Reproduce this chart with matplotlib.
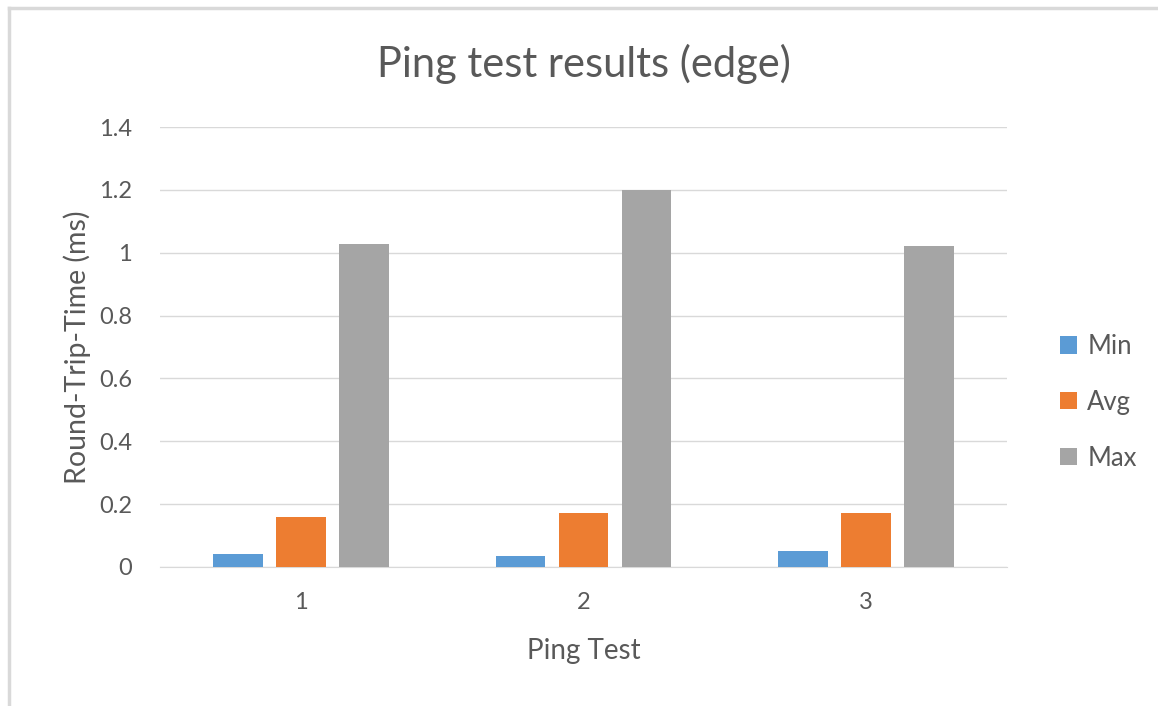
import matplotlib.pyplot as plt
import numpy as np
from matplotlib.lines import Line2D

plt.rcParams['font.family'] = ['Lato', 'DejaVu Sans']

tests = ['1', '2', '3']
min_rtt = [0.041, 0.035, 0.051]
avg_rtt = [0.159, 0.172, 0.172]
max_rtt = [1.027, 1.200, 1.022]

blue = '#5B9BD5'
orange = '#ED7D31'
gray = '#A5A5A5'
text_col = '#595959'

fig = plt.figure(figsize=(11.58, 7.06), dpi=100)
ax = fig.add_axes([0.138, 0.197, 0.732, 0.623])

# chart border (only top and left edges visible in the original crop)
fig.add_artist(Line2D([0.008, 1.0], [0.989, 0.989], transform=fig.transFigure,
                      color='#D9D9D9', linewidth=2.5))
fig.add_artist(Line2D([0.008, 0.008], [0.0, 0.989], transform=fig.transFigure,
                      color='#D9D9D9', linewidth=2.5))

x = np.arange(1, len(tests) + 1)
step = 0.223
w = 0.175
ax.bar(x - step, min_rtt, w, color=blue, label='Min', zorder=3)
ax.bar(x, avg_rtt, w, color=orange, label='Avg', zorder=3)
ax.bar(x + step, max_rtt, w, color=gray, label='Max', zorder=3)

ax.set_xlim(0.5, 3.5)
ax.set_ylim(0, 1.4)
ax.set_yticks(np.arange(0, 1.41, 0.2))
ax.set_yticklabels(['0', '0.2', '0.4', '0.6', '0.8', '1', '1.2', '1.4'])
ax.set_xticks(x)
ax.set_xticklabels(tests)
ax.grid(axis='y', color='#D9D9D9', linewidth=1, zorder=0)
for s in ['top', 'right', 'left']:
    ax.spines[s].set_visible(False)
ax.spines['bottom'].set_color('#D9D9D9')
ax.tick_params(axis='both', length=0, labelsize=17, colors=text_col)
ax.tick_params(axis='y', pad=20)
ax.tick_params(axis='x', pad=18)

ax.set_title('Ping test results (edge)', fontsize=30, color=text_col, pad=36)
ax.set_xlabel('Ping Test', fontsize=20, color=text_col, labelpad=18)
ax.set_ylabel('Round-Trip-Time (ms)', fontsize=20.5, color=text_col, labelpad=6)

leg = ax.legend(loc='center left', bbox_to_anchor=(1.035, 0.374), frameon=False,
                fontsize=18.5, labelspacing=1.2, handlelength=0.65, handleheight=0.65,
                handletextpad=0.4)
for t in leg.get_texts():
    t.set_color(text_col)

fig.savefig('out.png', dpi=100, facecolor='white')
